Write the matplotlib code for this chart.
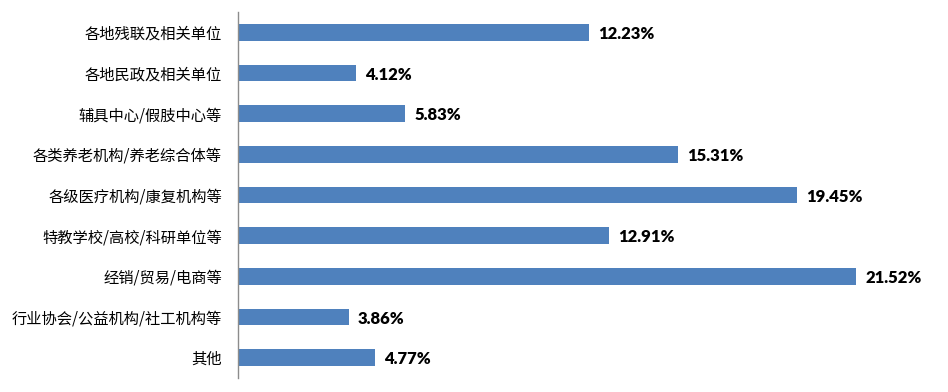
import matplotlib
matplotlib.use("Agg")
import matplotlib.pyplot as plt

categories = ["各地残联及相关单位", "各地民政及相关单位", "辅具中心/假肢中心等",
              "各类养老机构/养老综合体等", "各级医疗机构/康复机构等", "特教学校/高校/科研单位等",
              "经销/贸易/电商等", "行业协会/公益机构/社工机构等", "其他"]
values = [12.23, 4.12, 5.83, 15.31, 19.45, 12.91, 21.52, 3.86, 4.77]
value_labels = ["12.23%", "4.12%", "5.83%", "15.31%", "19.45%", "12.91%", "21.52%", "3.86%", "4.77%"]

plt.rcParams['font.family'] = ['Noto Sans CJK SC', 'DejaVu Sans']

W, H = 948, 392
fig = plt.figure(figsize=(W / 100, H / 100), dpi=100)
ax = fig.add_axes([238 / W, (H - 378) / H, (W - 238) / W, 366 / H])

n = len(categories)
ypos = list(range(n))
ax.barh(ypos, values, height=0.41, color="#4F81BD")
ax.set_ylim(n - 0.5, -0.5)
ax.set_xlim(0, (W - 238) / 28.72)

for y, v, lab in zip(ypos, values, value_labels):
    ax.annotate(lab, (v, y), xytext=(6.5, -1.2), textcoords="offset points",
                va="center", ha="left", fontsize=12, fontweight="heavy",
                family=["Lato", "DejaVu Sans"], color="black")

ax.set_yticks(ypos)
ax.set_yticklabels(categories, fontsize=11)
ax.tick_params(axis="y", length=0, pad=11.5)
ax.set_xticks([])
for s in ["top", "right", "bottom"]:
    ax.spines[s].set_visible(False)
ax.spines["left"].set_color("#8C8C8C")
ax.spines["left"].set_linewidth(1)

fig.savefig("out.png", dpi=100)
